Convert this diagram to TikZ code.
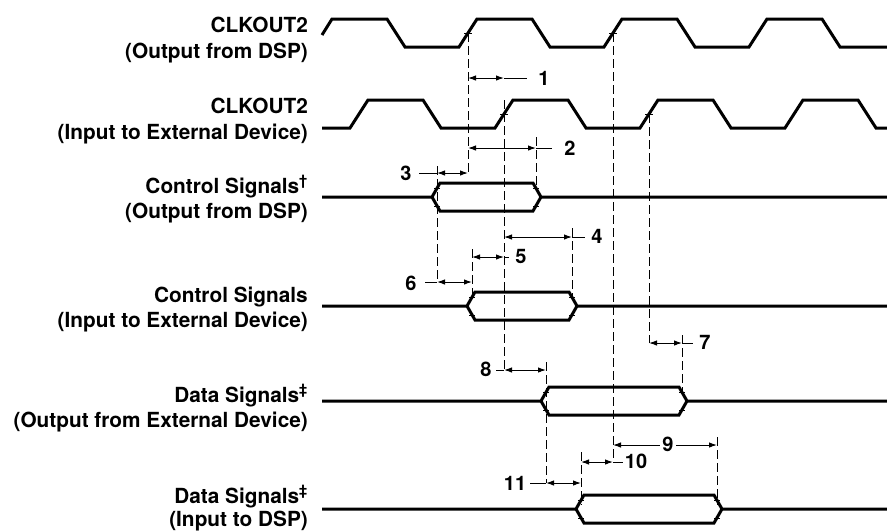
\documentclass[tikz,border=0pt]{standalone}
\usepackage{fontspec}
\setmainfont{TeX Gyre Heros}
\usetikzlibrary{arrows.meta}
\newcommand\hexsig[3]{%
  \draw[wave] (322,#1) -- (#2,#1) -- (#2+8,#1-14) -- (#3-8,#1-14) -- (#3,#1) -- (887,#1);
  \draw[wave] (#2,#1) -- (#2+8,#1+14) -- (#3-8,#1+14) -- (#3,#1);
  \draw[tick] (#2+2,#1-9) -- (#2+8,#1-9);
  \draw[tick] (#2+2,#1+9) -- (#2+8,#1+9);
  \draw[tick] (#3-8,#1-9) -- (#3-2,#1-9);
  \draw[tick] (#3-8,#1+9) -- (#3-2,#1+9);
}
\begin{document}
\begin{tikzpicture}[x=1pt,y=-1pt,
  wave/.style={line width=3pt, line join=miter},
  guide/.style={line width=1pt, dash pattern=on 9pt off 4pt},
  dim/.style={line width=1pt, {Latex[length=8pt,width=5.5pt]}-{Latex[length=8pt,width=5.5pt]}},
  lead/.style={line width=1pt},
  tick/.style={line width=0.8pt},
  lbl/.style={anchor=base east, inner sep=0pt, font=\fontsize{20.8}{25}\selectfont\bfseries},
  num/.style={inner sep=0pt, font=\fontsize{20}{24}\selectfont\bfseries}]
\useasboundingbox (0,0) rectangle (887,531);

% labels
\node[lbl] (c1a) at (308,32) {CLKOUT2};
\node[lbl] (c1b) at (308,58) {(Output from DSP)};
\node[lbl] (c2a) at (308,113) {CLKOUT2};
\node[lbl] (c2b) at (308,139) {(Input to External Device)};
\node[lbl] (c3a) at (308,193) {Control Signals\textsuperscript{†}};
\node[lbl] (c3b) at (308,218) {(Output from DSP)};
\node[lbl] (c4a) at (308,302) {Control Signals};
\node[lbl] (c4b) at (308,327) {(Input to External Device)};
\node[lbl] (c5a) at (308,402) {Data Signals\textsuperscript{‡}};
\node[lbl] (c5b) at (308,427) {(Output from External Device)};
\node[lbl] (c6a) at (308,503) {Data Signals\textsuperscript{‡}};
\node[lbl] (c6b) at (308,526) {(Input to DSP)};

% clocks
\draw[wave] (322,35) -- (332,19) -- (387,19) -- (405,47) -- (459,47) -- (477,19)
  -- (532,19) -- (550,47) -- (604,47) -- (622,19) -- (677,19) -- (695,47)
  -- (749,47) -- (767,19) -- (822,19) -- (840,47) -- (887,47);
\draw[wave] (322,128) -- (350,128) -- (368,100) -- (423,100) -- (441,128) -- (495,128)
  -- (513,100) -- (568,100) -- (586,128) -- (640,128) -- (658,100) -- (713,100)
  -- (731,128) -- (785,128) -- (803,100) -- (858,100) -- (876,128) -- (887,128);
\draw[tick] (464,33) -- (472,33);
\draw[tick] (609,33) -- (617,33);
\draw[tick] (500,114) -- (508,114);
\draw[tick] (645,114) -- (653,114);

% data / control
\hexsig{197}{432}{541}
\hexsig{306}{467}{577}
\hexsig{401}{541}{687}
\hexsig{509}{576}{722}

% guides
\draw[guide] (468,33) -- (468,173);
\draw[guide] (504,100) -- (504,370);
\draw[guide] (536,137) -- (536,190);
\draw[guide] (613,33) -- (613,458);
\draw[guide] (649,114) -- (649,343);
\draw[guide] (437,166) -- (437,282);
\draw[guide] (472,249) -- (472,300);
\draw[guide] (572,228) -- (572,300);
\draw[guide] (682,335) -- (682,395);
\draw[guide] (546,362) -- (546,483);
\draw[guide] (581,452) -- (581,505);
\draw[guide] (717,437) -- (717,505);

% dimensions
\draw[dim] (468,78) -- (504,78);   \draw[lead] (504,78) -- (527,78);
\node[num] (n1) at (544,78) {1};
\draw[dim] (468,148) -- (536,148); \draw[lead] (536,148) -- (552,148);
\node[num] (n2) at (570,148) {2};
\draw[dim] (437,173) -- (468,173); \draw[lead] (419,173) -- (437,173);
\node[num] (n3) at (406,173) {3};
\draw[dim] (504,237) -- (572,237); \draw[lead] (572,237) -- (585,237);
\node[num] (n4) at (597,236) {4};
\draw[dim] (472,257) -- (504,257); \draw[lead] (504,257) -- (509,257);
\node[num] (n5) at (521,256) {5};
\draw[dim] (437,282) -- (472,282); \draw[lead] (425,282) -- (437,282);
\node[num] (n6) at (411,283) {6};
\draw[dim] (649,343) -- (682,343); \draw[lead] (682,343) -- (693,343);
\node[num] (n7) at (705,342) {7};
\draw[dim] (504,370) -- (546,370); \draw[lead] (496,370) -- (504,370);
\node[num] (n8) at (486,369) {8};
\draw[dim] (613,445) -- (717,445);
\node[num, fill=white, inner xsep=2pt] (n9) at (668,444) {9};
\draw[dim] (581,462) -- (613,462); \draw[lead] (613,462) -- (623,462);
\node[num] (n10) at (636,461) {10};
\draw[dim] (546,483) -- (581,483); \draw[lead] (530,483) -- (546,483);
\node[num] (n11) at (515,483) {11};
\end{tikzpicture}
\end{document}
